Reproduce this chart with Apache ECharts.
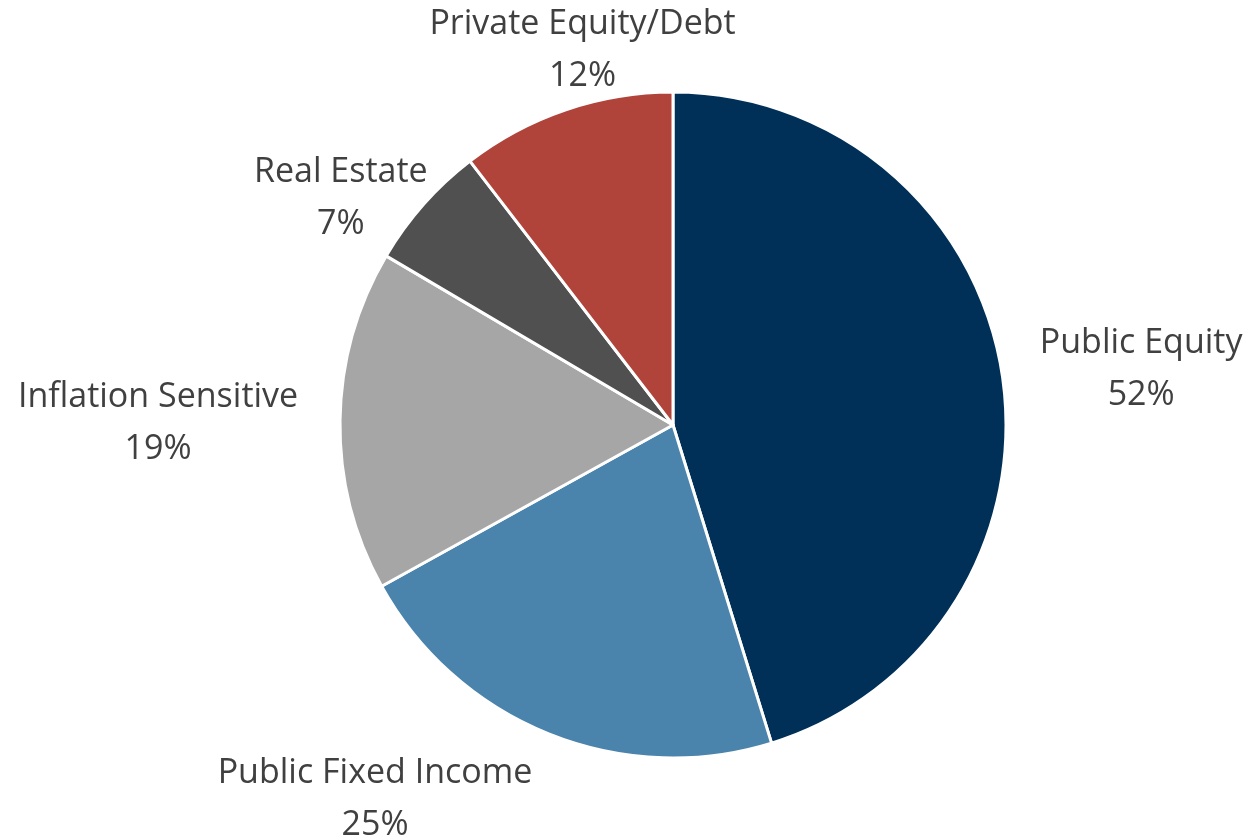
<!DOCTYPE html>
<html>
<head>
<meta charset="utf-8">
<script src="https://cdn.jsdelivr.net/npm/echarts@6/dist/echarts.min.js"></script>
<style>
  html, body { margin: 0; padding: 0; background: #fff; }
  #chart { width: 1254px; height: 840px; }
</style>
</head>
<body>
<div id="chart"></div>
<script>
// asset allocation pie
const categories = ['Public Equity', 'Public Fixed Income', 'Inflation Sensitive', 'Real Estate', 'Private Equity/Debt'];
const values = [52, 25, 19, 7, 12];
const colors = ['#003057', '#4a83ab', '#a6a6a6', '#505050', '#b0433a'];

// where each label block centre sits, relative to the anchor echarts picks
const labelDx = [124, -165, -172, -67, 25];
const labelDy = [-4, 56, 3, -8, -50];

function initPie() {
    const myChart = echarts.init(document.getElementById('chart'));

    const option = {
        animation: false,
        series: [
            {
                type: 'pie',
                center: [673, 425],
                radius: 333,
                startAngle: 90,
                clockwise: true,
                itemStyle: { borderColor: '#fff', borderWidth: 3 },
                label: {
                    show: true,
                    position: 'outside',
                    formatter: '{b}\n{c}%',
                    fontFamily: 'Open Sans',
                    fontSize: 34,
                    lineHeight: 52,
                    color: '#404040'
                },
                labelLine: { show: false, length: 10, length2: 0 },
                labelLayout: function (params) {
                    const i = params.dataIndex;
                    return { align: 'center', dx: labelDx[i], dy: labelDy[i] };
                },
                data: categories.map((name, i) => ({
                    name: name,
                    value: values[i],
                    itemStyle: { color: colors[i] }
                }))
            }
        ]
    };
    myChart.setOption(option);
}
window.addEventListener('load', initPie);
</script>
</body>
</html>
